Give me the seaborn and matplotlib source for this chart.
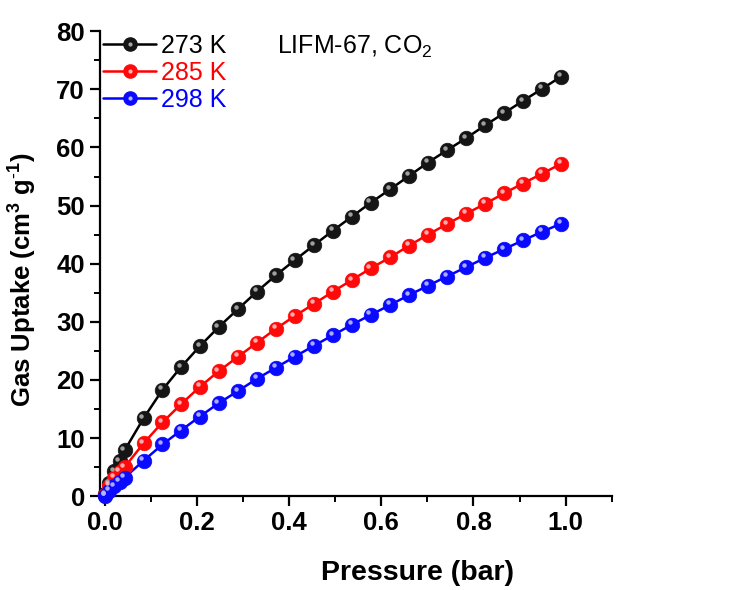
import matplotlib
matplotlib.use("Agg")
import matplotlib.pyplot as plt
import matplotlib.transforms as mtransforms
from matplotlib.lines import Line2D
from matplotlib.legend_handler import HandlerTuple
from matplotlib.ticker import MultipleLocator
import pandas as pd
import seaborn as sns

# CO2 adsorption isotherms of LIFM-67
pressure = [0.001, 0.009, 0.020, 0.032, 0.043, 0.084, 0.125, 0.165, 0.206,
            0.247, 0.289, 0.330, 0.371, 0.412, 0.454, 0.495, 0.536, 0.577,
            0.619, 0.660, 0.701, 0.742, 0.784, 0.825, 0.866, 0.907, 0.949, 0.990]

uptake_273 = [0.3, 2.2, 4.3, 6.0, 7.9, 13.4, 18.3, 22.2, 25.8,
              29.1, 32.2, 35.2, 38.0, 40.6, 43.2, 45.7, 48.1, 50.5,
              52.8, 55.1, 57.4, 59.5, 61.6, 63.8, 65.9, 68.0, 70.1, 72.2]

uptake_285 = [0.2, 1.8, 3.2, 4.2, 5.0, 9.1, 12.7, 15.8, 18.8,
              21.5, 24.0, 26.4, 28.8, 31.0, 33.1, 35.2, 37.2, 39.2,
              41.1, 43.1, 45.0, 46.8, 48.6, 50.3, 52.1, 53.8, 55.5, 57.2]

uptake_298 = [0.1, 0.9, 1.7, 2.5, 3.2, 6.1, 8.9, 11.3, 13.7,
              16.0, 18.1, 20.2, 22.1, 24.0, 25.9, 27.7, 29.5, 31.2,
              32.9, 34.6, 36.2, 37.8, 39.4, 41.0, 42.5, 44.0, 45.5, 46.9]

temperatures = ["273 K", "285 K", "298 K"]
x_ticks = [0.0, 0.2, 0.4, 0.6, 0.8, 1.0]
x_tick_labels = ["0.0", "0.2", "0.4", "0.6", "0.8", "1.0"]

line_colors = ["#000000", "#ff0000", "#0000ff"]
ball_colors = ["#151515", "#ff0a0a", "#0a0aff"]
shine_colors = ["#a8a8a8", "#ffb4b4", "#b4b4ff"]

df = pd.concat([
    pd.DataFrame({"Pressure": pressure, "Uptake": u, "T": t})
    for u, t in zip([uptake_273, uptake_285, uptake_298], temperatures)
], ignore_index=True)

sns.set_theme(style="ticks")
plt.rcParams["font.family"] = ["Liberation Sans", "DejaVu Sans"]
plt.rcParams["mathtext.fontset"] = "custom"
plt.rcParams["mathtext.rm"] = "Liberation Sans"
plt.rcParams["mathtext.bf"] = "Liberation Sans:bold"
plt.rcParams["text.color"] = "black"
plt.rcParams["axes.labelcolor"] = "black"
plt.rcParams["xtick.color"] = "black"
plt.rcParams["ytick.color"] = "black"

fig = plt.figure(figsize=(7.37, 5.9), dpi=100)
ax = fig.add_axes([0.136, 0.159, 0.694, 0.788])

handles = []
for t, lc, bc, sc in zip(temperatures, line_colors, ball_colors, shine_colors):
    sub = df[df["T"] == t]
    sns.lineplot(data=sub, x="Pressure", y="Uptake", color=lc, linewidth=1.8,
                 estimator=None, sort=False, ax=ax, legend=False, zorder=2)
    ax.plot(sub["Pressure"], sub["Uptake"], linestyle="none", marker="o",
            markersize=10.5, markerfacecolor=bc, markeredgecolor=bc,
            markeredgewidth=0.5, clip_on=False, zorder=3)
    # small glossy highlight on each ball
    shine_tr = mtransforms.offset_copy(ax.transData, fig=fig, x=-1.6, y=1.8,
                                       units="points")
    ax.plot(sub["Pressure"], sub["Uptake"], linestyle="none", marker="o",
            markersize=3.2, markerfacecolor=sc, markeredgewidth=0,
            alpha=0.95, transform=shine_tr, clip_on=False, zorder=4)
    h_line = Line2D([], [], color=lc, linewidth=1.8, marker="o",
                    markersize=9.5, markerfacecolor=bc, markeredgecolor=bc)
    h_shine = Line2D([], [], linestyle="none", marker="o", markersize=3.0,
                     markerfacecolor=sc, markeredgewidth=0)
    handles.append((h_line, h_shine))

leg = ax.legend(handles, temperatures,
                handler_map={tuple: HandlerTuple(ndivide=1, pad=0)},
                loc="center left", bbox_to_anchor=(0.006, 0.911), frameon=False,
                fontsize=18, handlelength=2.1, handletextpad=0.2,
                labelspacing=0.12, borderaxespad=0.0, borderpad=0.0)
for txt, c in zip(leg.get_texts(), line_colors):
    txt.set_color(c)

ax.text(0.346, 0.952, "LIFM-67, CO$_2$", transform=ax.transAxes, fontsize=18,
        ha="left", va="baseline", color="black")

ax.set_xlim(-0.01, 1.1)
ax.set_ylim(0, 80)
ax.xaxis.set_minor_locator(MultipleLocator(0.1))
ax.yaxis.set_major_locator(MultipleLocator(10))
ax.yaxis.set_minor_locator(MultipleLocator(5))
ax.set_xticks(x_ticks)
ax.set_xticklabels(x_tick_labels)

for s in ["top", "right"]:
    ax.spines[s].set_visible(False)
for s in ["left", "bottom"]:
    ax.spines[s].set_linewidth(1.6)
    ax.spines[s].set_color("black")

ax.tick_params(axis="both", which="major", direction="out", length=7,
               width=1.6, labelsize=18.5, colors="black", pad=4)
ax.tick_params(axis="both", which="minor", direction="out", length=4,
               width=1.4, colors="black")
for lab in ax.get_xticklabels() + ax.get_yticklabels():
    lab.set_fontweight("bold")

ax.set_xlabel("Pressure (bar)", fontsize=20.5, fontweight="bold")
ax.xaxis.set_label_coords(0.62, -0.138)
ax.set_ylabel(r"Gas Uptake (cm$^\mathbf{3}$ g$^\mathbf{\text{-}1}$)", fontsize=18.5,
              fontweight="bold")
ax.yaxis.set_label_coords(-0.122, 0.465)

fig.savefig("out.png", dpi=100)
